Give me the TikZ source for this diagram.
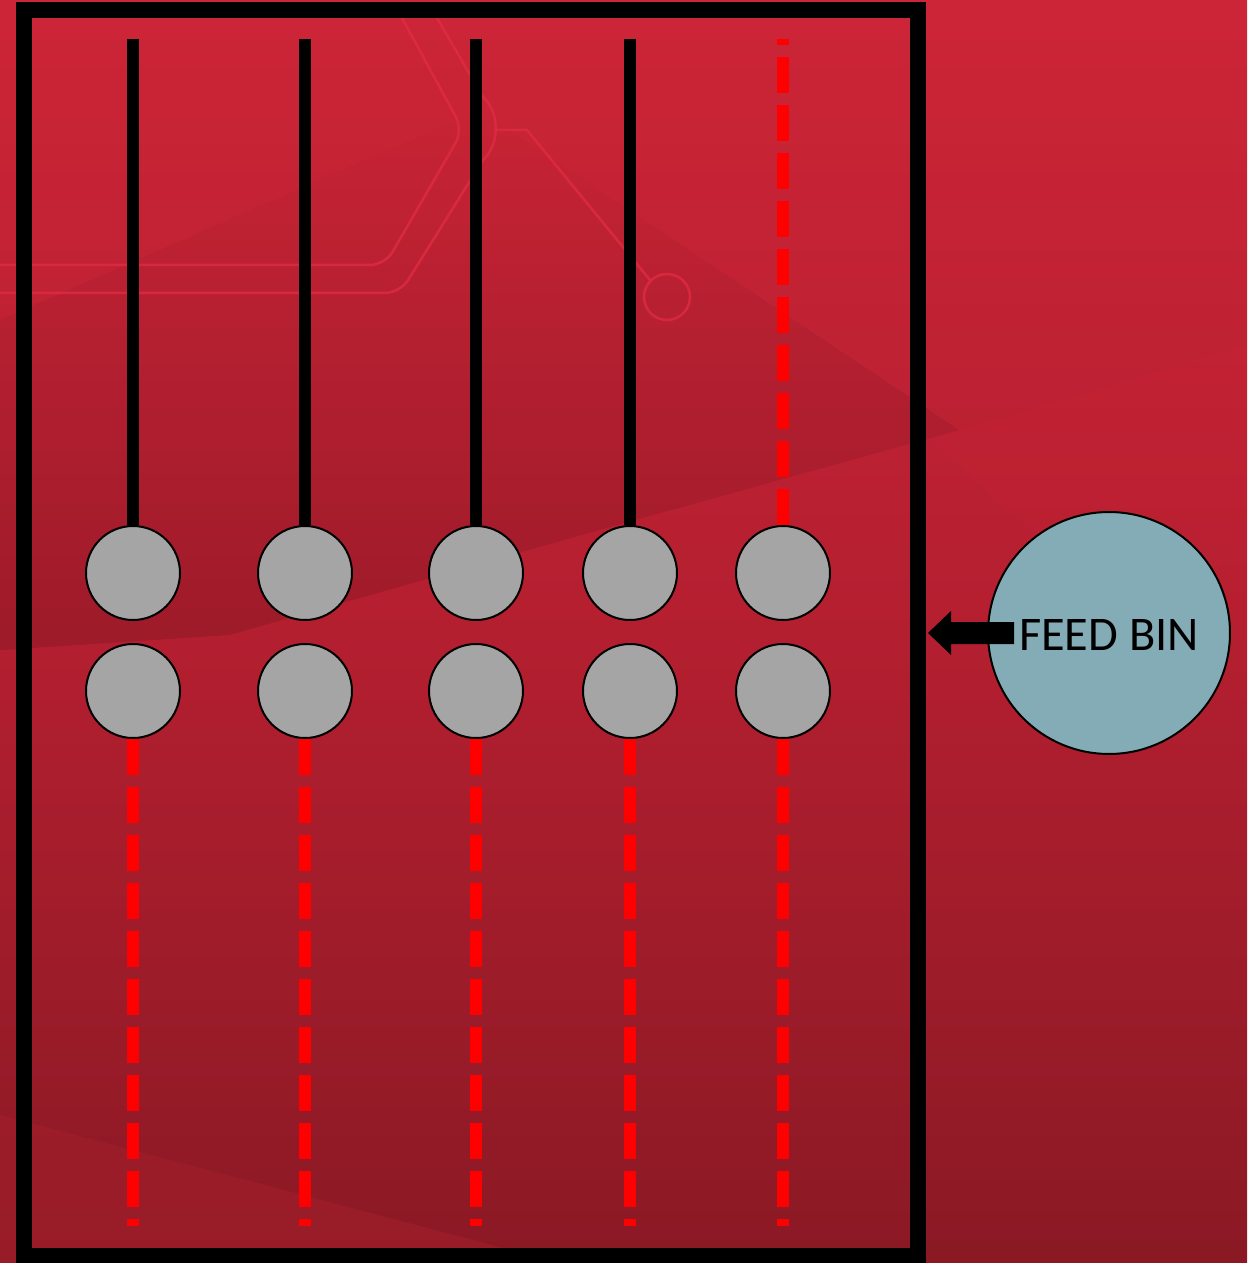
\documentclass[tikz,border=0pt]{standalone}
\usepackage{fontspec}
\usetikzlibrary{fadings}
\setmainfont{Carlito}
\begin{document}
\begin{tikzpicture}[x=0.02cm,y=-0.02cm,
  ball/.style={circle,draw=black,line width=0.04cm,fill=ballgray,minimum size=1.88cm,inner sep=0pt},
  rod/.style={line width=0.24cm,black},
  redrod/.style={line width=0.24cm,dashline,dash pattern=on 0.72cm off 0.24cm},
  circuit/.style={draw=circ,line width=0.05cm,opacity=0.75}]
\definecolor{bgtop}{RGB}{204,37,55}
\definecolor{bgmid}{RGB}{180,31,48}
\definecolor{bgbot}{RGB}{138,25,36}
\definecolor{ballgray}{RGB}{165,165,165}
\definecolor{binblue}{RGB}{132,172,182}
\definecolor{dashline}{RGB}{255,0,0}
\definecolor{circ}{RGB}{226,44,66}
\definecolor{lightred}{RGB}{200,36,54}
\definecolor{lowred}{RGB}{162,30,44}
\useasboundingbox (0,0) rectangle (1247,1263);
% background
\shade[top color=bgtop,bottom color=bgbot,middle color=bgmid] (0,0) rectangle (1247,1263);
\fill[black,opacity=0.12,path fading=north] (0,320) -- (480,110) -- (960,430) -- (600,530) -- (230,635) -- (0,650) -- cycle;
\fill[lightred,opacity=0.35,path fading=south] (930,440) -- (1247,345) -- (1247,720) -- cycle;
\fill[lowred,opacity=0.6] (0,1115) -- (560,1263) -- (0,1263) -- cycle;
% circuit traces
\draw[circuit,rounded corners=0.3cm] (0,265) -- (385,265) -- (463,130) -- (402,18);
\draw[circuit,rounded corners=0.3cm] (0,293) -- (400,293) -- (483,160);
\draw[circuit] (483,160) .. controls (500,145) and (500,112) .. (483,97) -- (437,18);
\draw[circuit] (495,130) -- (527,130) -- (650,280);
\draw[circuit] (667,297) circle[radius=0.46cm];
% frame
\node[draw=black,line width=0.32cm,minimum width=17.88cm,minimum height=24.92cm,inner sep=0pt] (frame) at (471,633) {};
% balls
\foreach \i/\x in {1/133,2/305,3/476,4/630,5/783}{
  \node[ball] (a\i) at (\x,573) {};
  \node[ball] (b\i) at (\x,691) {};
  \coordinate (t\i) at (\x,39);
  \coordinate (d\i) at (\x,1226);
}
\foreach \i in {1,2,3,4}{ \draw[rod] (t\i) -- (a\i.north); }
\draw[redrod] (a5.north) -- (t5);
\foreach \i in {1,...,5}{ \draw[redrod] (b\i.south) -- (d\i); }
% feed bin
\node[circle,draw=black,line width=0.04cm,fill=binblue,minimum size=4.84cm,inner sep=0pt] (bin) at (1109,633) {};
\node[font=\fontsize{27.5}{32}\selectfont,inner sep=0pt] (lbl) at (1109,635) {FEED BIN};
\coordinate (tip) at (928,633);
\fill[black] (1014,622) -- (1014,644) -- (951,644) -- (951,655) -- (tip) -- (951,611) -- (951,622) -- cycle;
\end{tikzpicture}
\end{document}
